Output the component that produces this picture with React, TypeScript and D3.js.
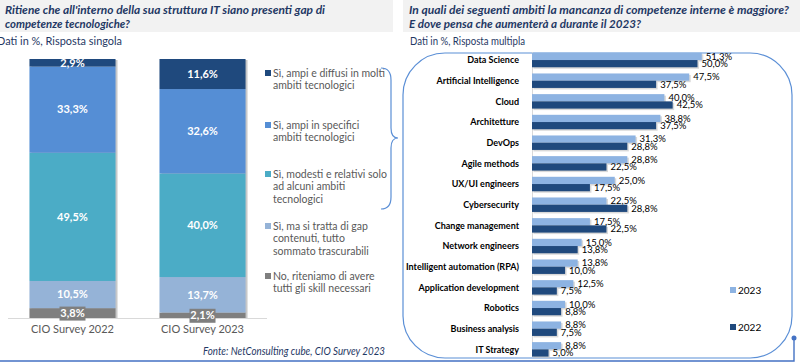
import React from "react";
import * as d3 from "d3";

// left chart: single answer, stacked 100%
const surveys = ["CIO Survey 2022", "CIO Survey 2023"];
// stack order, bottom to top
const answers = [
  "No, riteniamo di avere tutti gli skill necessari",
  "Sì, ma si tratta di gap contenuti, tutto sommato trascurabili",
  "Sì, modesti e relativi solo ad alcuni ambiti tecnologici",
  "Sì, ampi in specifici ambiti tecnologici",
  "Sì, ampi e diffusi in molti ambiti tecnologici",
];
const values2022 = [3.8, 10.5, 49.5, 33.3, 2.9];
const values2023 = [2.1, 13.7, 40.0, 32.6, 11.6];
// legend lines, top to bottom
const legendLines = [
  ["Sì, ampi e diffusi in molti", "ambiti tecnologici"],
  ["Sì, ampi in specifici", "ambiti tecnologici"],
  ["Sì, modesti e relativi solo", "ad alcuni ambiti", "tecnologici"],
  ["Sì, ma si tratta di gap", "contenuti, tutto", "sommato trascurabili"],
  ["No, riteniamo di avere", "tutti gli skill necessari"],
];

// right chart: multiple answer
const areas = [
  "Data Science",
  "Artificial Intelligence",
  "Cloud",
  "Architetture",
  "DevOps",
  "Agile methods",
  "UX/UI engineers",
  "Cybersecurity",
  "Change management",
  "Network engineers",
  "Intelligent automation (RPA)",
  "Application development",
  "Robotics",
  "Business analysis",
  "IT Strategy",
];
const areas2023 = [51.3, 47.5, 40.0, 38.8, 31.3, 28.8, 25.0, 22.5, 17.5, 15.0, 13.8, 12.5, 10.0, 8.8, 8.8];
const areas2022 = [50.0, 37.5, 42.5, 37.5, 28.8, 22.5, 17.5, 28.8, 22.5, 13.8, 10.0, 7.5, 8.8, 7.5, 5.0];
const years = ["2023", "2022"];

const stackColors = ["#7f7f7f", "#95b3d7", "#4bacc6", "#558ed5", "#1f497d"];
const yearColors = ["#8db3e2", "#1f497d"];
const navy = "#1f3864";
const blueLine = "#5b8fd6";
const font = "Lato, 'Open Sans', sans-serif";

const fmt = (v: number) => v.toFixed(1).replace(".", ",") + "%";

const App = () => {
  // left scales
  const xL = d3.scaleBand().domain(surveys).range([8, 267]).paddingInner(0.338).paddingOuter(0.165);
  const yL = d3.scaleLinear().domain([0, 100]).range([318, 59]);
  const series = [values2022, values2023];

  // right scales
  const yR = d3.scaleBand().domain(areas).range([49.7, 359.7]).paddingInner(0.3).paddingOuter(0.15);
  const yYear = d3.scaleBand().domain(years).range([0, yR.bandwidth()]);
  const xR = d3.scaleLinear().domain([0, 60]).range([532, 730.6]);
  const rightSeries = [areas2023, areas2022];

  return (
    <svg width={800} height={364} style={{ position: "absolute", left: 0, top: 0, display: "block" }} fontFamily={font}>
      <rect width={800} height={364} fill="#fff" />
      {/* title bands */}
      <rect x={0} y={0} width={393} height={32} fill="#f2f2f2" />
      <rect x={403} y={0} width={397} height={32} fill="#f2f2f2" />
      <g fill={navy} fontWeight="bold" fontStyle="italic" fontSize={12}>
        <text x={5} y={14} textLength={320} lengthAdjust="spacingAndGlyphs">
          Ritiene che all'interno della sua struttura IT siano presenti gap di
        </text>
        <text x={5} y={28} textLength={125} lengthAdjust="spacingAndGlyphs">
          competenze tecnologiche?
        </text>
        <text x={409} y={14} textLength={380} lengthAdjust="spacingAndGlyphs">
          In quali dei seguenti ambiti la mancanza di competenze interne è maggiore?
        </text>
        <text x={409} y={28} textLength={232} lengthAdjust="spacingAndGlyphs">
          E dove pensa che aumenterà a durante il 2023?
        </text>
      </g>
      <g fill={navy} fontSize={12}>
        <text x={-3} y={45} textLength={125} lengthAdjust="spacingAndGlyphs">Dati in %, Risposta singola</text>
        <text x={410} y={45} textLength={115} lengthAdjust="spacingAndGlyphs">Dati in %, Risposta multipla</text>
      </g>

      {/* left stacked bars */}
      {surveys.map((s, i) => {
        let acc = 0;
        const x0 = xL(s)!;
        const w = xL.bandwidth();
        return (
          <g key={s}>
            <rect x={x0 + 2} y={yL(100) + 1} width={w} height={yL(0) - yL(100) - 1} fill="#c8c8c8" />
            {series[i].map((v, k) => {
              const y1 = yL(acc);
              acc += v;
              const y2 = yL(acc);
              return <rect key={k} x={x0} y={y2} width={w} height={y1 - y2} fill={stackColors[k]} />;
            })}
          </g>
        );
      })}
      <line x1={8} x2={267} y1={318.5} y2={318.5} stroke="#d9d9d9" />
      {surveys.map((s, i) => {
        let acc = 0;
        const cx = xL(s)! + xL.bandwidth() / 2;
        return (
          <g key={s + "l"}>
            {series[i].map((v, k) => {
              const mid = yL(acc + v / 2);
              acc += v;
              return (
                <g key={k}>
                  {k === 0 && <rect x={cx - 13} y={mid - 6.5} width={26} height={14} fill={stackColors[0]} />}
                  <text x={cx} y={mid} dy="0.35em" textAnchor="middle" fill="#fff" fontWeight="bold" fontSize={11}>
                    {fmt(v)}
                  </text>
                </g>
              );
            })}
            <text x={cx} y={333} textAnchor="middle" fill="#595959" fontSize={11}>{s}</text>
          </g>
        );
      })}

      {/* left legend */}
      {legendLines.map((lines, i) => {
        const tops = [73, 125, 174, 226, 276];
        return (
          <g key={i}>
            <rect x={265} y={tops[i] - 3} width={6} height={6} fill={stackColors[4 - i]} />
            {lines.map((l, j) => (
              <text key={j} x={273} y={tops[i] + j * 12.6} dy="0.35em" fill="#595959" fontSize={10.5}>{l}</text>
            ))}
          </g>
        );
      })}

      {/* brace */}
      <path
        d="M381,68 Q391,68 391,80 L391,128 Q391,138 398,138 Q391,138 391,148 L391,197 Q391,209 381,209"
        fill="none"
        stroke={blueLine}
        strokeWidth={1.2}
      />

      {/* right panel frame */}
      <rect x={403} y={53} width={389} height={305} rx={42} ry={42} fill="none" stroke={blueLine} strokeWidth={1.2} />
      <polyline points="0,361 794,361 794,338" fill="none" stroke="#4472c4" strokeWidth={1.4} />
      <circle cx={794} cy={338} r={2.5} fill="#4472c4" />

      {/* right bars */}
      <line x1={532.5} x2={532.5} y1={52} y2={357} stroke="#d9d9d9" />
      {areas.map((a, i) => (
        <g key={a}>
          <text x={519} y={yR(a)! + yR.bandwidth() / 2} dy="0.35em" textAnchor="end" fontWeight="bold" fontSize={9} fill="#000">
            {a}
          </text>
          {years.map((yr, k) => {
            const v = rightSeries[k][i];
            const y = yR(a)! + yYear(yr)!;
            const h = yYear.bandwidth();
            return (
              <g key={yr}>
                <rect x={xR(0) + 1.5} y={y + 1.5} width={xR(v) - xR(0)} height={h} fill="#bfbfbf" opacity={0.6} />
                <rect x={xR(0)} y={y} width={xR(v) - xR(0)} height={h} fill={yearColors[k]} />
                <text x={xR(v) + 4} y={y + h / 2} dy="0.35em" fontSize={9.5} fill="#000">{fmt(v)}</text>
              </g>
            );
          })}
        </g>
      ))}

      {/* right legend */}
      {years.map((yr, k) => {
        const cy = [290, 327][k];
        return (
          <g key={yr}>
            <rect x={730} y={cy - 3} width={6} height={6} fill={yearColors[k]} />
            <text x={738} y={cy} dy="0.35em" fontSize={10} fill="#000">{yr}</text>
          </g>
        );
      })}

      {/* source */}
      <text x={385} y={355} textAnchor="end" fill={navy} fontStyle="italic" fontSize={10.5} textLength={182} lengthAdjust="spacingAndGlyphs">
        Fonte: NetConsulting cube, CIO Survey 2023
      </text>
    </svg>
  );
};

export default App;
